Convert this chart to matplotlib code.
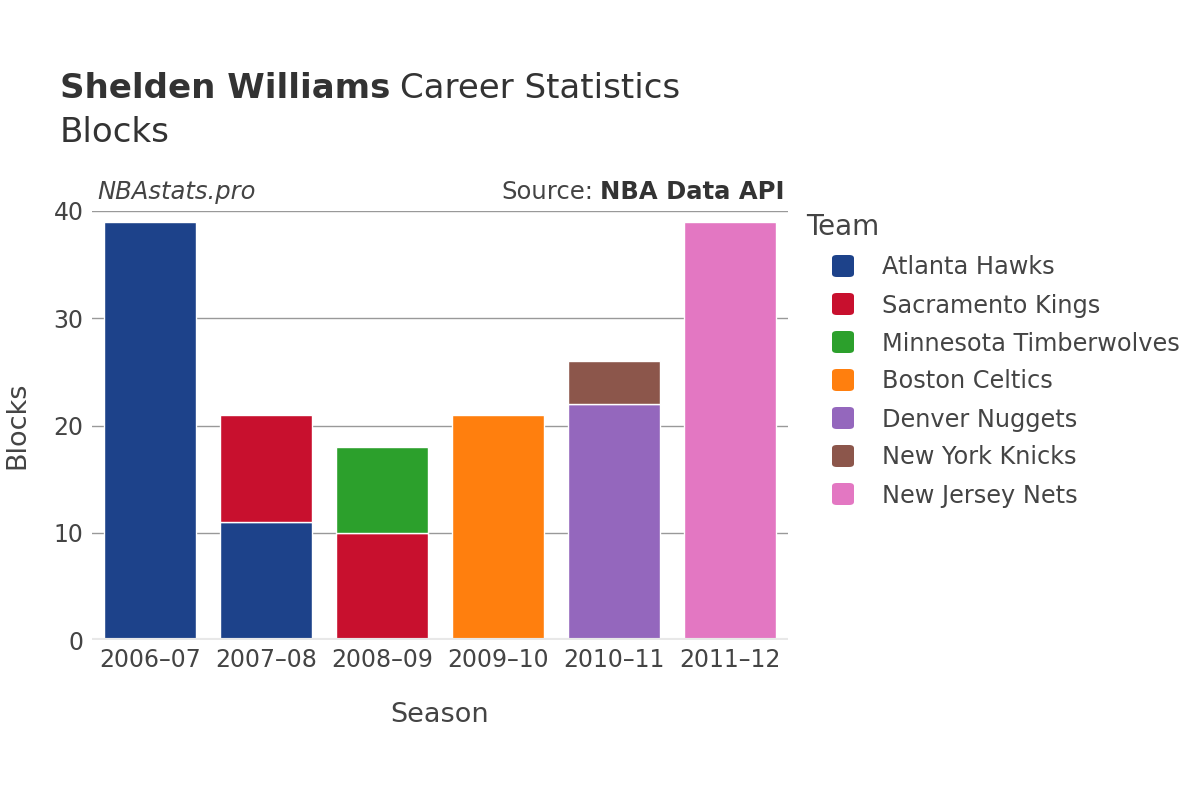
import matplotlib.pyplot as plt
from matplotlib.patches import FancyBboxPatch
import numpy as np

seasons = ["2006–07", "2007–08", "2008–09", "2009–10", "2010–11", "2011–12"]
teams = ["Atlanta Hawks", "Sacramento Kings", "Minnesota Timberwolves",
         "Boston Celtics", "Denver Nuggets", "New York Knicks", "New Jersey Nets"]
colors = ["#1d428a", "#c8102e", "#2ca02c", "#ff7f0e", "#9467bd", "#8c564b", "#e377c2"]
# blocks per team per season (stacked in team order)
blocks = {
    "Atlanta Hawks":          [39, 11, 0, 0, 0, 0],
    "Sacramento Kings":       [0, 10, 10, 0, 0, 0],
    "Minnesota Timberwolves": [0, 0, 8, 0, 0, 0],
    "Boston Celtics":         [0, 0, 0, 21, 0, 0],
    "Denver Nuggets":         [0, 0, 0, 0, 22, 0],
    "New York Knicks":        [0, 0, 0, 0, 4, 0],
    "New Jersey Nets":        [0, 0, 0, 0, 0, 39],
}

txt = "#444444"
fig = plt.figure(figsize=(12, 8), dpi=100)
ax = fig.add_axes([92 / 1200, 1 - 640 / 800, 696 / 1200, 429 / 800])

x = np.arange(len(seasons))
bottom = np.zeros(len(seasons))
for team, c in zip(teams, colors):
    vals = np.array(blocks[team], dtype=float)
    mask = vals > 0
    ax.bar(x[mask], vals[mask], 0.8, bottom=bottom[mask], color=c,
           edgecolor="white", linewidth=1, zorder=3)
    bottom += vals

ax.set_xlim(-0.5, len(seasons) - 0.5)
ax.set_ylim(0, 40)
ax.set_yticks([0, 10, 20, 30, 40])
ax.set_xticks(x)
ax.set_xticklabels(seasons)
ax.grid(axis="y", color="#999999", linewidth=1, zorder=0)
ax.axhline(0, color="#e8e8e8", linewidth=3, zorder=4)
for s in ax.spines.values():
    s.set_visible(False)
ax.tick_params(length=0, labelsize=17, colors=txt, pad=6)
ax.set_xlabel("Season", fontsize=19.5, color=txt, labelpad=21)
ax.set_ylabel("Blocks", fontsize=19.5, color=txt, labelpad=17)

# titles
t1 = fig.text(60 / 1200, 1 - 89 / 800, "Shelden Williams", fontsize=24.5, fontweight="bold",
              color="#333333", va="center")
fig.canvas.draw()
bb = t1.get_window_extent()
fig.text(bb.x1 / 1200 + 0.008, 1 - 89 / 800, "Career Statistics", fontsize=24.5,
         color="#333333", va="center")
fig.text(60 / 1200, 1 - 133 / 800, "Blocks", fontsize=24.5, color="#333333", va="center")

fig.text(97 / 1200, 1 - 192 / 800, "NBAstats.pro", fontsize=17.5, style="italic",
         color=txt, va="center")
s2 = fig.text(784 / 1200, 1 - 192 / 800, "NBA Data API", fontsize=17.5, fontweight="bold",
              color="#333333", va="center", ha="right")
fig.canvas.draw()
bb2 = s2.get_window_extent()
fig.text(bb2.x0 / 1200 - 0.005, 1 - 192 / 800, "Source:", fontsize=17.5,
         color=txt, va="center", ha="right")

# legend
fig.text(806 / 1200, 1 - 227 / 800, "Team", fontsize=20, color=txt, va="center")
for i, (team, c) in enumerate(zip(teams, colors)):
    yc = 266 + i * 38
    fig.patches.append(FancyBboxPatch((832 / 1200, 1 - (yc + 11) / 800), 22 / 1200, 22 / 800,
                                      boxstyle="round,pad=0,rounding_size=0.004",
                                      transform=fig.transFigure, facecolor=c,
                                      edgecolor="none"))
    fig.text(882 / 1200, 1 - (yc + 1.5) / 800, team, fontsize=17.3, color=txt, va="center")

fig.savefig("out.png", dpi=100)
